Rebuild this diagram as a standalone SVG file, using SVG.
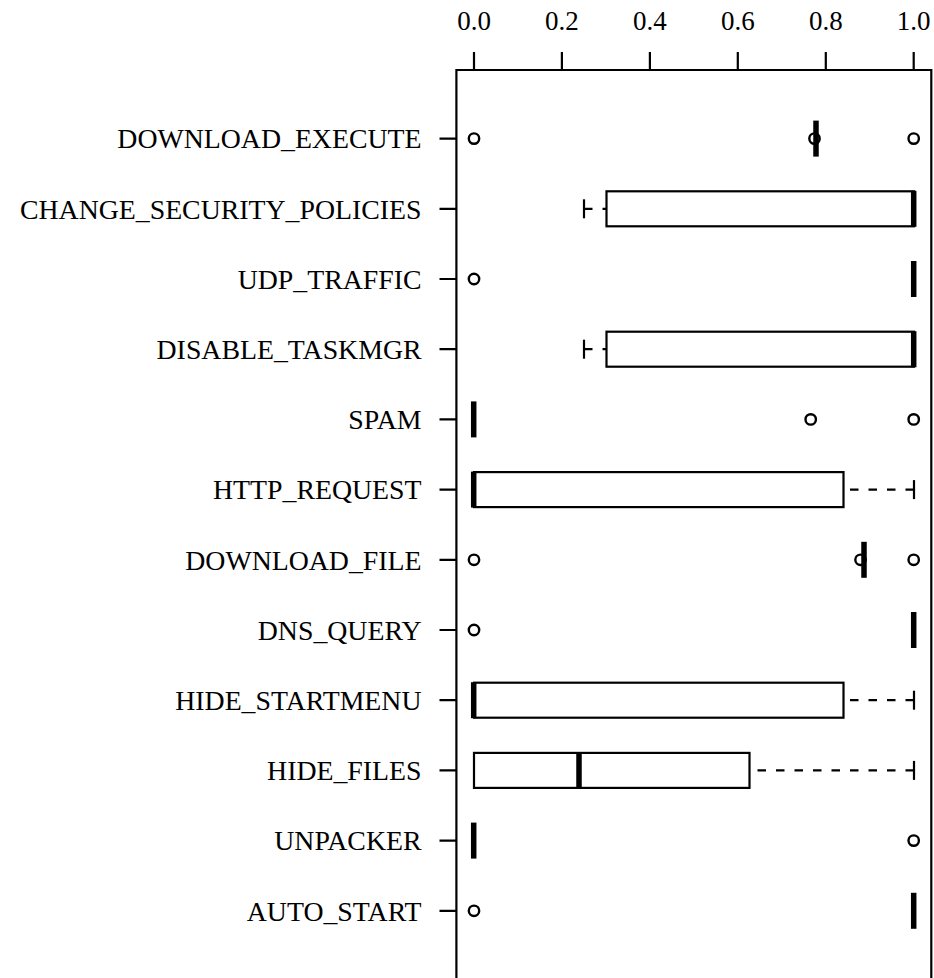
<svg xmlns="http://www.w3.org/2000/svg" width="934" height="978" viewBox="0 0 934 978">
<style>
text{font-family:"Liberation Serif","Times New Roman",serif;font-size:27px;fill:#000}
.lab{text-anchor:end;font-size:27.8px}
.tl{text-anchor:middle}
.ax{stroke:#000;stroke-width:2.2;fill:none}
.box{stroke:#000;stroke-width:2.2;fill:#fff}
.med{stroke:#000;stroke-width:5.5;fill:none}
.out{stroke:#000;stroke-width:2.4;fill:none}
.wh{stroke:#000;stroke-width:2.2;fill:none;stroke-dasharray:8.5 10}
.cap{stroke:#000;stroke-width:2.2;fill:none}
</style>
<rect width="934" height="978" fill="#fff"/>
<g id="axes">
<path class="ax" d="M456.4,990 V70 H931.3 V990"/>
<path class="ax" d="M474,52V70M561.9,52V70M649.9,52V70M737.8,52V70M825.8,52V70M913.7,52V70"/>
<text class="tl" x="474" y="30">0.0</text>
<text class="tl" x="561.9" y="30">0.2</text>
<text class="tl" x="649.9" y="30">0.4</text>
<text class="tl" x="737.8" y="30">0.6</text>
<text class="tl" x="825.8" y="30">0.8</text>
<text class="tl" x="913.7" y="30">1.0</text>
<path class="ax" d="M439.5,138.6H456.4M439.5,208.8H456.4M439.5,279H456.4M439.5,349.2H456.4M439.5,419.4H456.4M439.5,489.6H456.4M439.5,559.8H456.4M439.5,630H456.4M439.5,700.2H456.4M439.5,770.4H456.4M439.5,840.6H456.4M439.5,910.8H456.4"/>
</g>
<g id="connectors">
<path class="wh" d="M584,208.8H606.5"/>
<path class="cap" d="M584,199.3V218.3"/>
<path class="wh" d="M584,349.2H606.5"/>
<path class="cap" d="M584,339.7V358.7"/>
<path class="wh" d="M914,489.6H843.5"/>
<path class="cap" d="M914,480.1V499.1"/>
<path class="wh" d="M914,700.2H843.5"/>
<path class="cap" d="M914,690.7V709.7"/>
<path class="wh" d="M914,770.4H749.5"/>
<path class="cap" d="M914,760.9V779.9"/>
</g>
<g id="DOWNLOAD_EXECUTE">
<text class="lab" x="421.5" y="148.3">DOWNLOAD_EXECUTE</text>
<circle class="out" cx="474" cy="138.6" r="5.2"/>
<circle class="out" cx="814.5" cy="138.6" r="5.2"/>
<circle class="out" cx="913.7" cy="138.6" r="5.2"/>
<path class="med" d="M816,120.6V156.6"/>
</g>
<g id="CHANGE_SECURITY_POLICIES">
<text class="lab" x="421.5" y="218.5">CHANGE_SECURITY_POLICIES</text>
<rect class="box" x="606.5" y="191.3" width="307.5" height="35"/>
<path class="med" d="M913.7,190.8V226.8"/>
</g>
<g id="UDP_TRAFFIC">
<text class="lab" x="421.5" y="288.7">UDP_TRAFFIC</text>
<circle class="out" cx="474" cy="279" r="5.2"/>
<path class="med" d="M913.7,261V297"/>
</g>
<g id="DISABLE_TASKMGR">
<text class="lab" x="421.5" y="358.9">DISABLE_TASKMGR</text>
<rect class="box" x="606.5" y="331.7" width="307.5" height="35"/>
<path class="med" d="M913.7,331.2V367.2"/>
</g>
<g id="SPAM">
<text class="lab" x="421.5" y="429.1">SPAM</text>
<path class="med" d="M473.7,401.4V437.4"/>
<circle class="out" cx="810.7" cy="419.4" r="5.2"/>
<circle class="out" cx="913.7" cy="419.4" r="5.2"/>
</g>
<g id="HTTP_REQUEST">
<text class="lab" x="421.5" y="499.3">HTTP_REQUEST</text>
<rect class="box" x="474" y="472.1" width="369.5" height="35"/>
<path class="med" d="M473.7,471.6V507.6"/>
</g>
<g id="DOWNLOAD_FILE">
<text class="lab" x="421.5" y="569.5">DOWNLOAD_FILE</text>
<circle class="out" cx="474" cy="559.8" r="5.2"/>
<circle class="out" cx="860.5" cy="559.8" r="5.2"/>
<path class="med" d="M864,541.8V577.8"/>
<circle class="out" cx="913.7" cy="559.8" r="5.2"/>
</g>
<g id="DNS_QUERY">
<text class="lab" x="421.5" y="639.7">DNS_QUERY</text>
<circle class="out" cx="474" cy="630" r="5.2"/>
<path class="med" d="M913.7,612V648"/>
</g>
<g id="HIDE_STARTMENU">
<text class="lab" x="421.5" y="709.9">HIDE_STARTMENU</text>
<rect class="box" x="474" y="682.7" width="369.5" height="35"/>
<path class="med" d="M473.7,682.2V718.2"/>
</g>
<g id="HIDE_FILES">
<text class="lab" x="421.5" y="780.1">HIDE_FILES</text>
<rect class="box" x="474" y="752.9" width="275.5" height="35"/>
<path class="med" d="M579,752.4V788.4"/>
</g>
<g id="UNPACKER">
<text class="lab" x="421.5" y="850.3">UNPACKER</text>
<path class="med" d="M473.7,822.6V858.6"/>
<circle class="out" cx="913.7" cy="840.6" r="5.2"/>
</g>
<g id="AUTO_START">
<text class="lab" x="421.5" y="920.5">AUTO_START</text>
<circle class="out" cx="474" cy="910.8" r="5.2"/>
<path class="med" d="M913.7,892.8V928.8"/>
</g>
</svg>
